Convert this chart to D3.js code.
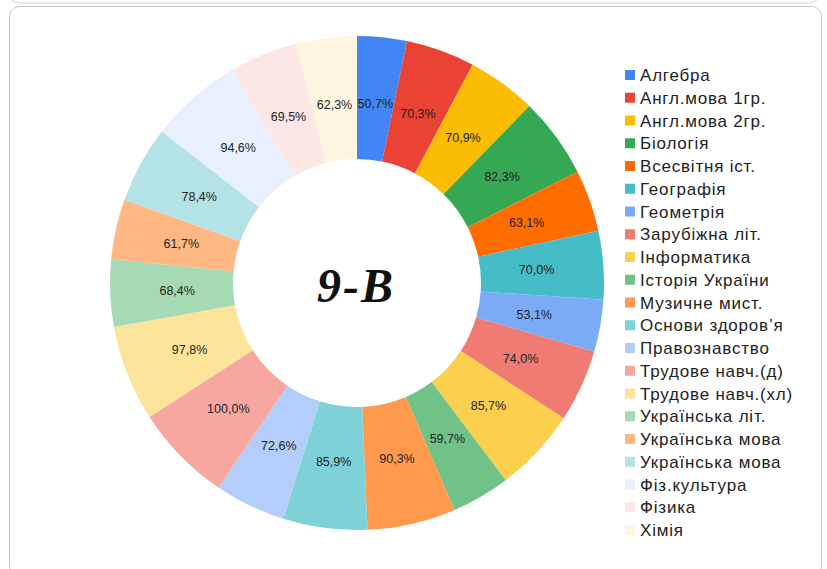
<!DOCTYPE html>
<html>
<head>
<meta charset="utf-8">
<script src="https://cdn.jsdelivr.net/npm/d3@7"></script>
<style>
  body { margin: 0; background: #fff; }
  svg { display: block; }
</style>
</head>
<body>
<svg id="chart" width="827" height="569"></svg>
<script>
// subjects in legend order
const subjects = ["Алгебра", "Англ.мова 1гр.", "Англ.мова 2гр.", "Біологія", "Всесвітня іст.",
  "Географія", "Геометрія", "Зарубіжна літ.", "Інформатика", "Історія України",
  "Музичне мист.", "Основи здоров’я", "Правознавство", "Трудове навч.(д)", "Трудове навч.(хл)",
  "Українська літ.", "Українська мова", "Українська мова", "Фіз.культура", "Фізика", "Хімія"]

// percent per subject
const values = [50.7, 70.3, 70.9, 82.3, 63.1, 70.0, 53.1, 74.0, 85.7, 59.7,
  90.3, 85.9, 72.6, 100.0, 97.8, 68.4, 61.7, 78.4, 94.6, 69.5, 62.3]

const colors = ["#4285f4", "#ea4335", "#fbbc04", "#34a853", "#ff6d01", "#46bdc6", "#7baaf7",
  "#f07b72", "#fcd04f", "#71c287", "#ff994d", "#7ed1d7", "#b3cefb", "#f7a7a0", "#fde49b",
  "#a6dab4", "#ffb884", "#b3e3e7", "#e8effd", "#fde7e6", "#fff5e0"]

const title = "9-В"

const svg = d3.select("#chart")

// bottom of the previous card
svg.append("rect")
    .attr("x", 9.5).attr("y", -30)
    .attr("width", 810).attr("height", 33)
    .attr("rx", 10)
    .attr("fill", "#fff")
    .attr("stroke", "#d4d4d4")

// card
svg.append("rect")
    .attr("x", 9.5).attr("y", 6.5)
    .attr("width", 812).attr("height", 570)
    .attr("rx", 10)
    .attr("fill", "#fff")
    .attr("stroke", "#c8c8c8")

const cx = 357, cy = 283
const outerR = 247, innerR = 124

const data = subjects.map((s, i) => ({name: s, value: values[i], color: colors[i]}))

const pie = d3.pie().value(d => d.value).sort(null)
const arc = d3.arc().innerRadius(innerR).outerRadius(outerR)
const labelArc = d3.arc().innerRadius(180).outerRadius(180)

const g = svg.append("g").attr("transform", `translate(${cx},${cy})`)

const slices = g.selectAll(".slice")
    .data(pie(data))
    .join("g")
    .attr("class", "slice")

slices.append("path")
    .attr("d", arc)
    .attr("fill", d => d.data.color)

slices.append("text")
    .attr("transform", d => `translate(${labelArc.centroid(d)})`)
    .attr("text-anchor", "middle")
    .attr("dy", "0.35em")
    .attr("font-family", "Liberation Sans, Arial, sans-serif")
    .attr("font-size", 12.5)
    .attr("fill", "#222")
    .text(d => d3.format(".1f")(d.data.value).replace(".", ",") + "%")

// center title
g.append("text")
    .attr("text-anchor", "middle")
    .attr("x", -1)
    .attr("y", 19)
    .attr("font-family", "Liberation Serif, Times New Roman, serif")
    .attr("font-weight", "bold")
    .attr("font-style", "italic")
    .attr("font-size", 48)
    .attr("letter-spacing", 2)
    .attr("fill", "#111")
    .text(title)

// legend
const legendY = d3.scalePoint().domain(d3.range(subjects.length)).range([75, 530])

const legend = svg.append("g")
    .selectAll("g")
    .data(data)
    .join("g")
    .attr("transform", (d, i) => `translate(625,${legendY(i)})`)

legend.append("rect")
    .attr("x", 0).attr("y", -5)
    .attr("width", 10).attr("height", 10)
    .attr("fill", d => d.color)

legend.append("text")
    .attr("x", 15)
    .attr("dy", "0.36em")
    .attr("font-family", "Liberation Sans, Arial, sans-serif")
    .attr("font-size", 17)
    .attr("letter-spacing", 0.8)
    .attr("fill", "#222")
    .text(d => d.name)
</script>
</body>
</html>
